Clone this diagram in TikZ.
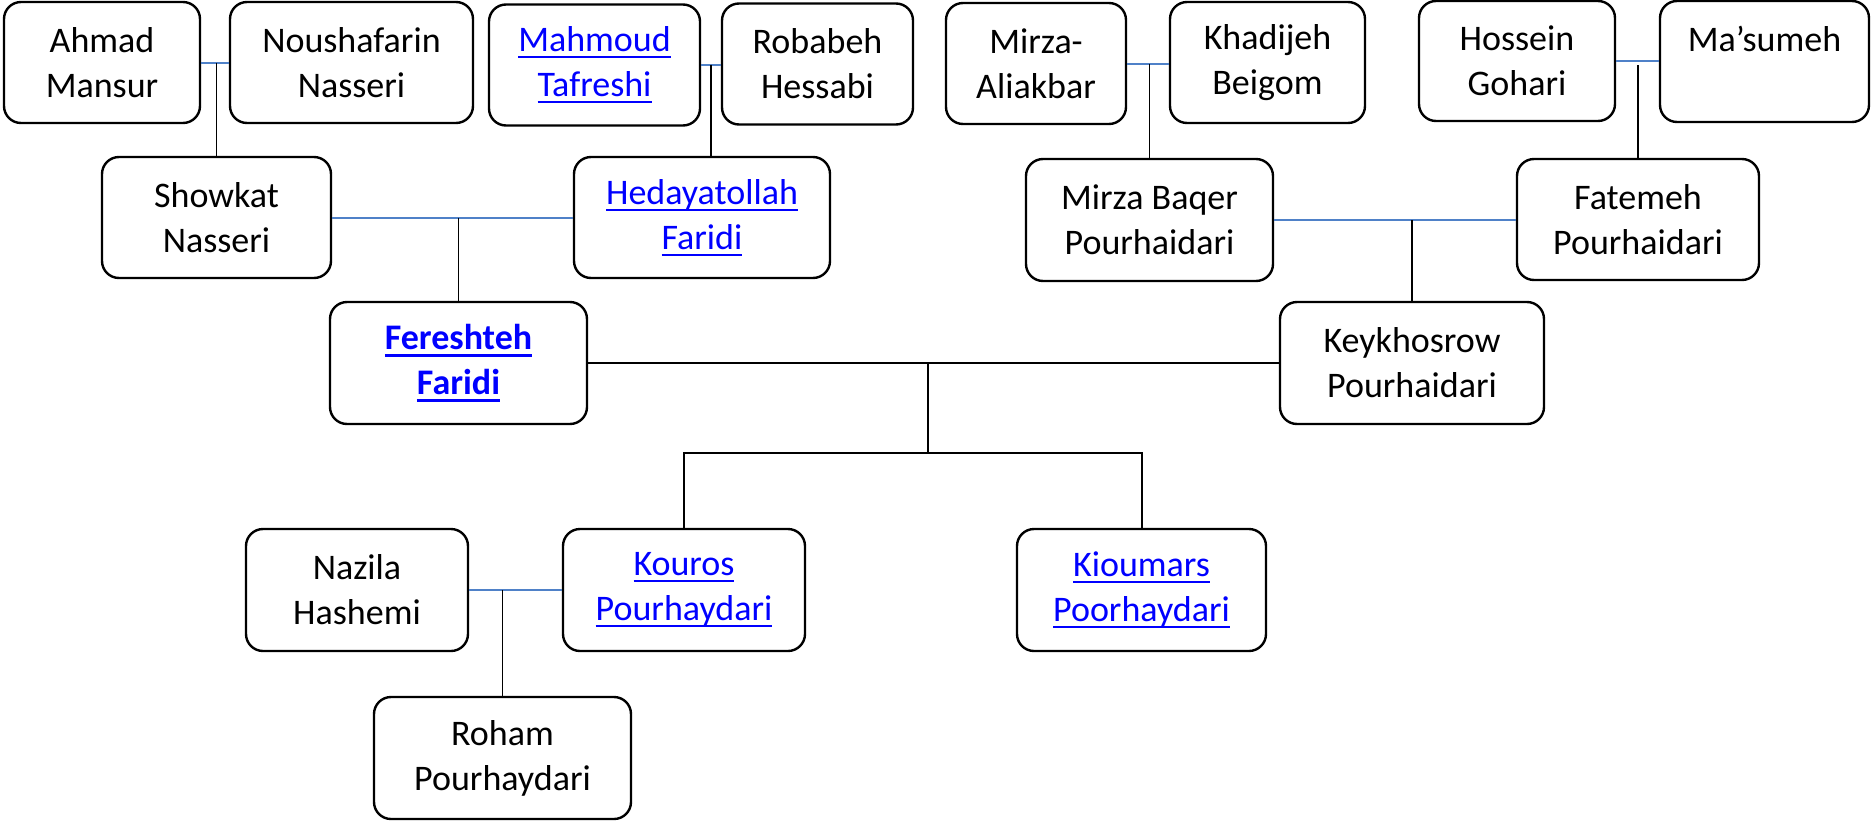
\documentclass[tikz,border=0pt]{standalone}
\usepackage{fontspec}
\setmainfont{Carlito}
\usetikzlibrary{calc}
\definecolor{linkblue}{RGB}{0,0,255}
\definecolor{spouseblue}{RGB}{79,129,200}
\newcommand{\linkul}[1]{\setbox0=\hbox{#1}\rlap{\rule[-6.8pt]{\wd0}{2.4pt}}\box0}
\newcommand{\linkulb}[1]{\setbox0=\hbox{#1}\rlap{\rule[-7.2pt]{\wd0}{3pt}}\box0}
\begin{document}
\begin{tikzpicture}[x=1pt,y=-1pt,
  person/.style={draw=black,line width=2.4pt,rounded corners=17pt,align=center,inner sep=0pt,
    minimum height=121pt,font=\fontsize{36pt}{45pt}\selectfont},
  linkp/.style={person,text=linkblue},
  spouse/.style={draw=spouseblue,line width=2pt},
  child/.style={draw=black,line width=1.5pt},
  desc/.style={draw=black,line width=2pt}]
\useasboundingbox (0,0) rectangle (1872,822);
% generation 1
\node[person,minimum width=196pt] (ahmad) at (102,62.5) {Ahmad\\Mansur};
\node[person,minimum width=243pt] (noush) at (351.5,62.5) {Noushafarin\\Nasseri};
\node[linkp,minimum width=211pt] (mahmoud) at (594.5,65) {\linkul{Mahmoud}\\\linkul{Tafreshi}};
\node[person,minimum width=191pt] (robabeh) at (817.5,64) {Robabeh\\Hessabi};
\node[person,minimum width=180pt] (mirzaa) at (1036,63.5) {Mirza-\\Aliakbar};
\node[person,minimum width=195pt] (khadijeh) at (1267.5,62.5) {Khadijeh\\Beigom};
\node[person,minimum width=196pt,minimum height=120pt] (hossein) at (1517,61) {Hossein\\Gohari};
\node[person,minimum width=209pt] (masumeh) at (1764.5,61.5) {Ma’sumeh\\\mbox{}};
% generation 2
\node[person,minimum width=229pt] (showkat) at (216.5,217.5) {Showkat\\Nasseri};
\node[linkp,minimum width=256pt] (hedayat) at (702,217.5) {\linkul{Hedayatollah}\\\linkul{Faridi}};
\node[person,minimum width=247pt,minimum height=122pt] (baqer) at (1149.5,220) {Mirza Baqer\\Pourhaidari};
\node[person,minimum width=242pt] (fatemeh) at (1638,219.5) {Fatemeh\\Pourhaidari};
% generation 3
\node[linkp,minimum width=257pt,minimum height=122pt,font=\fontsize{36pt}{45pt}\selectfont\bfseries] (fereshteh) at (458.5,363) {\linkulb{Fereshteh}\\\linkulb{Faridi}};
\node[person,minimum width=264pt,minimum height=122pt] (keykh) at (1412,363) {Keykhosrow\\Pourhaidari};
% generation 4
\node[person,minimum width=222pt,minimum height=122pt] (nazila) at (357,590) {Nazila\\Hashemi};
\node[linkp,minimum width=242pt,minimum height=122pt] (kouros) at (684,590) {\linkul{Kouros}\\\linkul{Pourhaydari}};
\node[linkp,minimum width=249pt,minimum height=122pt] (kioumars) at (1141.5,590) {\linkul{Kioumars}\\\linkul{Poorhaydari}};
% generation 5
\node[person,minimum width=257pt,minimum height=122pt] (roham) at (502.5,758) {Roham\\Pourhaydari};
% couples and children
\draw[spouse] (ahmad.east) -- (ahmad.east -| noush.west);
\draw[child] (showkat.north |- ahmad.east) -- (showkat.north);
\draw[spouse] (mahmoud.east) -- (mahmoud.east -| robabeh.west);
\coordinate (mrmid) at ($(mahmoud.east)!0.5!(robabeh.west)$);
\draw[child] (mrmid) -- (mrmid |- hedayat.north);
\draw[spouse] (mirzaa.east) -- (mirzaa.east -| khadijeh.west);
\draw[child] (baqer.north |- mirzaa.east) -- (baqer.north);
\draw[spouse] (hossein.east) -- (hossein.east -| masumeh.west);
\coordinate (hmtop) at ($(fatemeh.north |- hossein.east)+(0,4)$);
\draw[child] (hmtop) -- (fatemeh.north);
\draw[spouse] (showkat.east) -- (showkat.east -| hedayat.west);
\draw[child] (fereshteh.north |- showkat.east) -- (fereshteh.north);
\draw[spouse] (baqer.east) -- (baqer.east -| fatemeh.west);
\draw[child] (keykh.north |- baqer.east) -- (keykh.north);
\draw[desc] (fereshteh.east) -- (keykh.west);
\coordinate (fork) at (928,453);
\draw[child] (fork |- fereshteh.east) -- (fork);
\draw[desc] (kouros.north) |- (fork) -| (kioumars.north);
\draw[spouse] (nazila.east) -- (kouros.west);
\draw[child] (roham.north |- nazila.east) -- (roham.north);
\end{tikzpicture}
\end{document}
